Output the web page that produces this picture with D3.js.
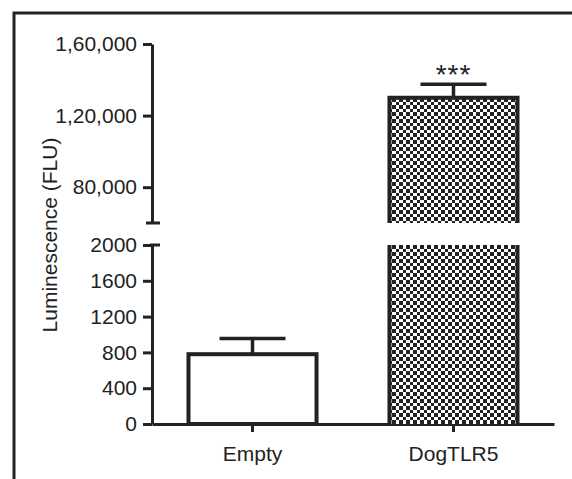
<!DOCTYPE html>
<html>
<head>
<meta charset="utf-8">
<script src="https://cdn.jsdelivr.net/npm/d3@7"></script>
<style>
  body { margin: 0; background: #fff; }
  svg { display: block; font-family: Arial, "Liberation Sans", sans-serif; }
  .axis text { font-size: 21px; fill: #222; font-family: Arial, "Liberation Sans", sans-serif; }
  .axis path, .axis line { stroke: #222; stroke-width: 3; }
</style>
</head>
<body>
<script>
// sizes
var width = 572, height = 479;

// data
var categories = ["Empty", "DogTLR5"];
var means = [780, 130000];
var errors = [175, 7500];
var stars = ["", "***"];

// broken y axis
var topDomain = [60000, 160000];
var topTicks = [80000, 120000, 160000];
var topTickLabels = ["80,000", "1,20,000", "1,60,000"];
var botDomain = [0, 2000];
var botTicks = [0, 400, 800, 1200, 1600, 2000];

var ink = "#222";

var svg = d3.select("body").append("svg")
  .attr("width", width)
  .attr("height", height);

// checker pattern
var pat = svg.append("defs").append("pattern")
  .attr("id", "checker")
  .attr("patternUnits", "userSpaceOnUse")
  .attr("width", 7).attr("height", 7);
pat.append("rect").attr("width", 7).attr("height", 7).attr("fill", "#fff");
pat.append("rect").attr("width", 4).attr("height", 4).attr("fill", ink);
pat.append("rect").attr("x", 4).attr("y", 4).attr("width", 3).attr("height", 3).attr("fill", ink);

// frame (left + top)
svg.append("path")
  .attr("d", "M14,479 L14,13 L572,13")
  .attr("fill", "none")
  .attr("stroke", ink)
  .attr("stroke-width", 3);

// scales
var x = d3.scaleBand()
  .domain(categories)
  .range([152, 554])
  .paddingInner(0.343)
  .paddingOuter(0.1716);

var yTop = d3.scaleLinear().domain(topDomain).range([223, 44]);
var yBot = d3.scaleLinear().domain(botDomain).range([424, 245]);

// axes
var yTopAxis = d3.axisLeft(yTop)
  .tickValues(topTicks)
  .tickFormat(function(d, i) { return topTickLabels[i]; })
  .tickSize(9).tickSizeOuter(0).tickPadding(6);
svg.append("g").attr("class", "axis")
  .attr("transform", "translate(152,0)")
  .call(yTopAxis);

var yBotAxis = d3.axisLeft(yBot)
  .tickValues(botTicks)
  .tickFormat(d3.format("d"))
  .tickSize(9).tickSizeOuter(0).tickPadding(6);
svg.append("g").attr("class", "axis")
  .attr("transform", "translate(152,0)")
  .call(yBotAxis);

// break marks
svg.append("line")
  .attr("x1", 146).attr("x2", 160)
  .attr("y1", yTop(topDomain[0])).attr("y2", yTop(topDomain[0]))
  .attr("stroke", ink).attr("stroke-width", 3);
svg.append("line")
  .attr("x1", 150).attr("x2", 160)
  .attr("y1", yBot(botDomain[1])).attr("y2", yBot(botDomain[1]))
  .attr("stroke", ink).attr("stroke-width", 3);

var xAxis = d3.axisBottom(x).tickSize(8).tickSizeOuter(0).tickPadding(14);
svg.append("g").attr("class", "axis")
  .attr("transform", "translate(0," + yBot(0) + ")")
  .call(xAxis);

// y label
svg.append("text")
  .attr("transform", "translate(57," + 235 + ") rotate(-90)")
  .attr("text-anchor", "middle")
  .attr("font-size", 21)
  .attr("fill", ink)
  .text("Luminescence (FLU)");

// bars
var bw = x.bandwidth();
categories.forEach(function(c, i) {
  var x0 = x(c) + 2, x1 = x(c) + bw - 2;
  var v = means[i];
  if (v <= botDomain[1]) {
    svg.append("rect")
      .attr("x", x0).attr("y", yBot(v))
      .attr("width", x1 - x0).attr("height", yBot(0) - yBot(v))
      .attr("fill", "#fff").attr("stroke", ink).attr("stroke-width", 4);
  } else {
    // lower segment
    svg.append("rect")
      .attr("x", x0).attr("y", yBot(botDomain[1]))
      .attr("width", x1 - x0).attr("height", yBot(0) - yBot(botDomain[1]))
      .attr("fill", "url(#checker)");
    svg.append("path")
      .attr("d", "M" + x0 + "," + yBot(0) + "V" + yBot(botDomain[1]) +
                 "M" + x1 + "," + yBot(0) + "V" + yBot(botDomain[1]))
      .attr("fill", "none").attr("stroke", ink).attr("stroke-width", 4);
    // upper segment
    svg.append("rect")
      .attr("x", x0).attr("y", yTop(v))
      .attr("width", x1 - x0).attr("height", yTop(topDomain[0]) - yTop(v))
      .attr("fill", "url(#checker)");
    svg.append("path")
      .attr("d", "M" + x0 + "," + yTop(topDomain[0]) + "V" + yTop(v) +
                 "H" + x1 + "V" + yTop(topDomain[0]))
      .attr("fill", "none").attr("stroke", ink).attr("stroke-width", 4);
  }

  // error bar
  var y = v <= botDomain[1] ? yBot : yTop;
  var cx = x(c) + bw / 2;
  svg.append("line")
    .attr("x1", cx).attr("x2", cx)
    .attr("y1", y(v)).attr("y2", y(v + errors[i]))
    .attr("stroke", ink).attr("stroke-width", 3.5);
  svg.append("line")
    .attr("x1", cx - bw / 4).attr("x2", cx + bw / 4)
    .attr("y1", y(v + errors[i])).attr("y2", y(v + errors[i]))
    .attr("stroke", ink).attr("stroke-width", 3.5);

  if (stars[i]) {
    svg.append("text")
      .attr("x", cx).attr("y", y(v + errors[i]) + 0)
      .attr("text-anchor", "middle")
      .attr("font-size", 28)
      .attr("letter-spacing", 1)
      .attr("fill", ink)
      .text(stars[i]);
  }
});
</script>
</body>
</html>
